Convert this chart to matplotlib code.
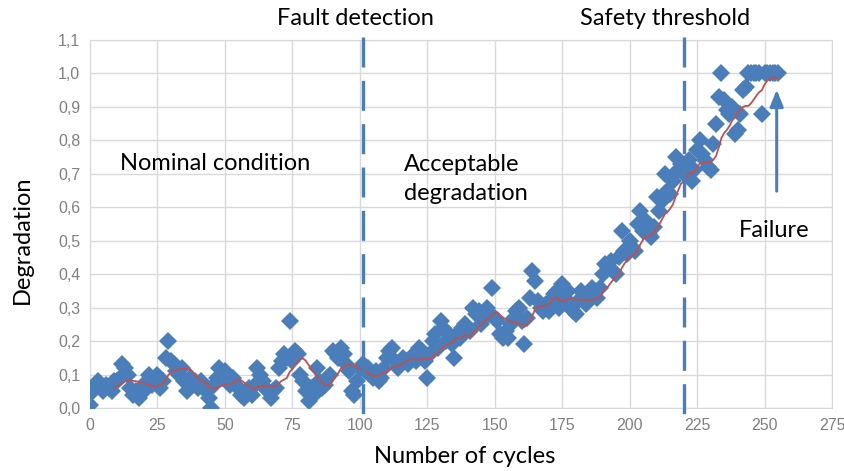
import numpy as np
import pandas as pd
import matplotlib
matplotlib.use("Agg")
import matplotlib.pyplot as plt

# degradation value read for each cycle (0..255)
degradation = [
    0.01, 0.05, 0.07, 0.08, 0.06, 0.05, 0.07, 0.06, 0.05, 0.08,
    0.08, 0.09, 0.13, 0.12, 0.10, 0.06, 0.04, 0.05, 0.03, 0.06,
    0.05, 0.08, 0.10, 0.07, 0.09, 0.10, 0.06, 0.08, 0.15, 0.20,
    0.14, 0.13, 0.11, 0.10, 0.12, 0.08, 0.05, 0.09, 0.07, 0.08,
    0.06, 0.08, 0.07, 0.05, 0.03, 0.00, 0.07, 0.09, 0.12, 0.10,
    0.11, 0.08, 0.07, 0.09, 0.07, 0.06, 0.04, 0.03, 0.05, 0.06,
    0.04, 0.07, 0.12, 0.10, 0.08, 0.06, 0.05, 0.03, 0.05, 0.06,
    0.12, 0.14, 0.16, 0.15, 0.26, 0.14, 0.17, 0.16, 0.10, 0.08,
    0.05, 0.02, 0.06, 0.04, 0.12, 0.08, 0.06, 0.07, 0.09, 0.10,
    0.17, 0.16, 0.15, 0.18, 0.16, 0.13, 0.11, 0.05, 0.04, 0.08,
    0.12, 0.13, 0.11, 0.12, 0.10, 0.09, 0.11, 0.08, 0.09, 0.12,
    0.15, 0.17, 0.18, 0.14, 0.12, 0.13, 0.15, 0.14, 0.13, 0.15,
    0.16, 0.14, 0.18, 0.17, 0.14, 0.09, 0.16, 0.20, 0.22, 0.18,
    0.26, 0.24, 0.20, 0.22, 0.19, 0.15, 0.22, 0.21, 0.24, 0.25,
    0.24, 0.23, 0.30, 0.28, 0.29, 0.25, 0.27, 0.30, 0.28, 0.36,
    0.27, 0.26, 0.22, 0.21, 0.23, 0.21, 0.25, 0.27, 0.29, 0.30,
    0.26, 0.19, 0.27, 0.33, 0.41, 0.38, 0.32, 0.30, 0.29, 0.31,
    0.29, 0.32, 0.34, 0.35, 0.30, 0.37, 0.33, 0.35, 0.31, 0.29,
    0.28, 0.32, 0.35, 0.33, 0.31, 0.34, 0.36, 0.35, 0.33, 0.36,
    0.40, 0.43, 0.42, 0.44, 0.41, 0.40, 0.45, 0.53, 0.47, 0.46,
    0.50, 0.48, 0.47, 0.55, 0.59, 0.53, 0.56, 0.52, 0.51, 0.54,
    0.63, 0.59, 0.62, 0.70, 0.65, 0.64, 0.68, 0.75, 0.71, 0.73,
    0.70, 0.72, 0.74, 0.68, 0.71, 0.77, 0.80, 0.76, 0.74, 0.72,
    0.71, 0.79, 0.85, 0.93, 1.00, 0.92, 0.89, 0.88, 0.90, 0.82,
    0.83, 0.88, 0.95, 0.96, 1.00, 1.00, 1.00, 1.00, 1.00, 0.88,
    1.00, 1.00, 1.00, 1.00, 1.00, 1.00,
]
cycles = np.arange(len(degradation))

fault_cycle = 101
safety_cycle = 220
ma_period = 10

x_ticks = [0, 25, 50, 75, 100, 125, 150, 175, 200, 225, 250, 275]
y_ticks = [0.0, 0.1, 0.2, 0.3, 0.4, 0.5, 0.6, 0.7, 0.8, 0.9, 1.0, 1.1]
y_labels = ["0,0", "0,1", "0,2", "0,3", "0,4", "0,5", "0,6", "0,7", "0,8", "0,9", "1,0", "1,1"]

blue = "#4a7ebb"
red = "#c0504d"
text_font = ["Lato", "DejaVu Sans"]
tick_font = ["Liberation Sans Narrow", "Liberation Sans", "DejaVu Sans"]

fig = plt.figure(figsize=(8.44, 4.71), dpi=100)
ax = fig.add_axes([0.1066, 0.1338, 0.8792, 0.7812])

ax.set_xlim(0, 275)
ax.set_ylim(0, 1.1)
ax.set_xticks(x_ticks)
ax.set_yticks(y_ticks)
ax.set_yticklabels(y_labels)
ax.grid(True, color="#d9d9d9", linewidth=1)
ax.set_axisbelow(True)
for s in ax.spines.values():
    s.set_color("#d9d9d9")
ax.tick_params(length=0, labelsize=11.5, labelcolor="#808080", pad=7)
for lab in ax.get_xticklabels() + ax.get_yticklabels():
    lab.set_family(tick_font)

# data points and moving average trendline
ax.plot(cycles, degradation, linestyle="none", marker="D", markersize=9.5,
        color=blue, markeredgewidth=0, zorder=3)
ma = pd.Series(degradation).rolling(ma_period).mean()
ax.plot(cycles, ma, color=red, linewidth=1.3, zorder=4)

# event lines
for xc in [fault_cycle, safety_cycle]:
    ln, = ax.plot([xc, xc], [1.108, -0.035], color=blue, linewidth=2.4,
                  clip_on=False, zorder=5)
    ln.set_dashes((9, 4))

ax.annotate("", xy=(254.5, 0.96), xytext=(254.5, 0.64),
            arrowprops=dict(arrowstyle="-|>,head_width=0.4,head_length=1.0",
                            color=blue, lw=2.2))

ax.text(11, 0.73, "Nominal condition", fontsize=17, family=text_font,
        ha="left", va="center")
ax.text(116.5, 0.685, "Acceptable\ndegradation", fontsize=17, family=text_font,
        ha="left", va="center", linespacing=1.45)
ax.text(240.5, 0.53, "Failure", fontsize=17, family=text_font,
        ha="left", va="center")
ax.text(98.5, 1.165, "Fault detection", fontsize=17, family=text_font,
        ha="center", va="center", clip_on=False)
ax.text(213, 1.165, "Safety threshold", fontsize=17, family=text_font,
        ha="center", va="center", clip_on=False)

fig.text(0.026, 0.49, "Degradation", rotation=90, fontsize=17,
         family=text_font, ha="center", va="center")
fig.text(0.551, 0.03, "Number of cycles", fontsize=17,
         family=text_font, ha="center", va="center")

fig.savefig("out.png", dpi=100)
